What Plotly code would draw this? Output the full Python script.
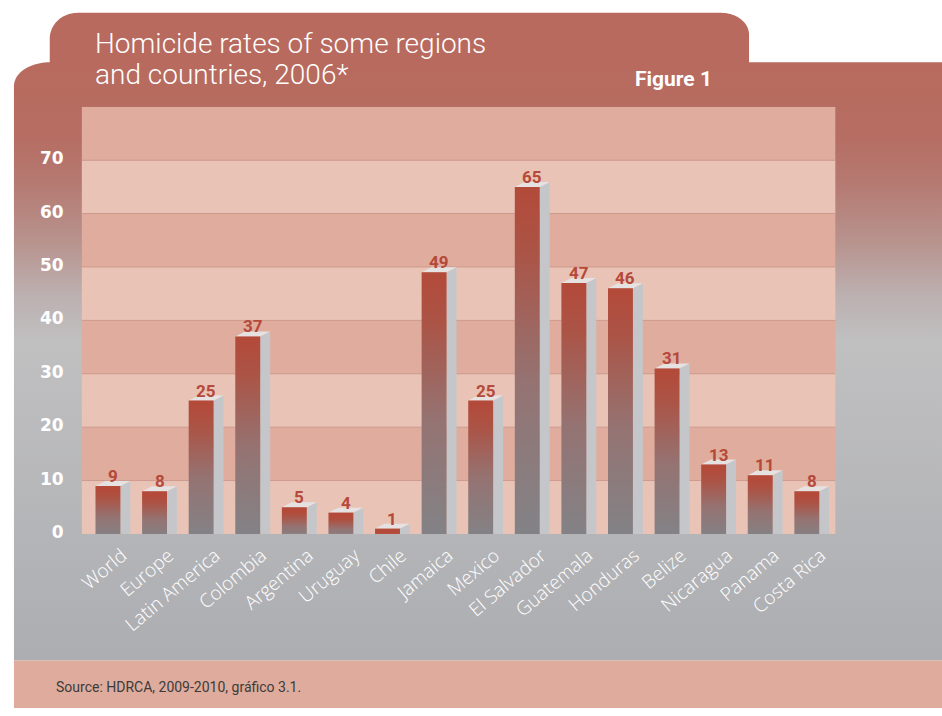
import numpy as np
import plotly.graph_objects as go

# ---------------- data ----------------
categories = ["World", "Europe", "Latin America", "Colombia", "Argentina", "Uruguay",
              "Chile", "Jamaica", "Mexico", "El Salvador", "Guatemala", "Honduras",
              "Belize", "Nicaragua", "Panama", "Costa Rica"]
rates = [9, 8, 25, 37, 5, 4, 1, 49, 25, 65, 47, 46, 31, 13, 11, 8]
y_tick_values = [0, 10, 20, 30, 40, 50, 60, 70]
y_tick_labels = ["0", "10", "20", "30", "40", "50", "60", "70"]
title_lines = ["Homicide rates of some regions", "and countries, 2006*"]
figure_label = "Figure 1"
source_text = "Source: HDRCA, 2009-2010, gráfico 3.1."

# ---------------- geometry / style ----------------
W, H = 942, 716
PX0, PX1, PY0, PY1 = 77, 835, 108, 540     # plot area in pixels
XR = [-0.566, 15.617]
YR = [0, 80]
FRONT_W = 0.535
DEPTH_X = 0.2135
DEPTH_Y = 0.93

RED_TOP = "#b86a5e"
BAND_DARK = "#dfac9d"
BAND_LIGHT = "#e9c4b6"
GRID_COL = "#cf9a8d"
LABEL_RED = "#b5493a"

fig = go.Figure()


def rounded_top(x0, x1, ytop, ybot, rxl, ryl, rxr, ryr, n=24):
    xs, ys = [x0], [ybot]
    t = np.linspace(np.pi, 1.5 * np.pi, n)
    xs += list(x0 + rxl + rxl * np.cos(t))
    ys += list(ytop + ryl + ryl * np.sin(t))
    t = np.linspace(1.5 * np.pi, 2 * np.pi, n)
    xs += list(x1 - rxr + rxr * np.cos(t))
    ys += list(ytop + ryr + ryr * np.sin(t))
    xs += [x1, x0]
    ys += [ybot, ybot]
    return xs, ys


# ---- background panel (pixel axes x/y), kept inside the figure ----
tx, ty = rounded_top(45, 748, 13, 80, 28, 26, 28, 22)
fig.add_trace(go.Scatter(x=tx, y=ty, fill="toself", fillcolor=RED_TOP, mode="none",
                         xaxis="x", yaxis="y", hoverinfo="skip", showlegend=False))

bx, by = rounded_top(9, W, 63, 668, 36, 24, 0.01, 0.01)
fig.add_trace(go.Scatter(
    x=bx, y=by, fill="toself", mode="none", xaxis="x", yaxis="y",
    hoverinfo="skip", showlegend=False,
    fillgradient=dict(type="vertical", start=63, stop=668,
                      colorscale=[[0, "#b86a5e"], [0.12, "#b66d62"], [0.2, "#b57a72"],
                                  [0.3, "#b8948f"], [0.38, "#bcafaf"], [0.46, "#c0c0c1"],
                                  [1, "#acadb1"]])))

fig.add_trace(go.Scatter(x=[9, W, W, 9, 9], y=[668, 668, H, H, 668], fill="toself",
                         fillcolor="#dfab9c", mode="none", xaxis="x", yaxis="y",
                         hoverinfo="skip", showlegend=False))

# ---- plot area bands (data axes x2/y2) ----
for k in range(8):
    y0, y1 = k * 10, k * 10 + 10
    fig.add_trace(go.Scatter(x=[XR[0], XR[1], XR[1], XR[0], XR[0]], y=[y0, y0, y1, y1, y0],
                             fill="toself", fillcolor=BAND_LIGHT if k % 2 == 0 else BAND_DARK,
                             mode="none", xaxis="x2", yaxis="y2", hoverinfo="skip",
                             showlegend=False))
for v in y_tick_values[1:]:
    fig.add_trace(go.Scatter(x=XR, y=[v, v], mode="lines", line=dict(color=GRID_COL, width=1),
                             xaxis="x2", yaxis="y2", hoverinfo="skip", showlegend=False))

# ---- 3D bars ----
for i, v in enumerate(rates):
    xl, xr = i - FRONT_W / 2, i + FRONT_W / 2
    # side face
    fig.add_trace(go.Scatter(x=[xr, xr + DEPTH_X, xr + DEPTH_X, xr, xr],
                             y=[0, 0, v + DEPTH_Y, v, 0], fill="toself", fillcolor="#c5c6ca",
                             mode="none", xaxis="x2", yaxis="y2", hoverinfo="skip",
                             showlegend=False))
    # top face
    fig.add_trace(go.Scatter(x=[xl, xr, xr + DEPTH_X, xl + DEPTH_X, xl],
                             y=[v, v, v + DEPTH_Y, v + DEPTH_Y, v], fill="toself",
                             fillcolor="#e6e2e1", mode="none", xaxis="x2", yaxis="y2",
                             hoverinfo="skip", showlegend=False))
    # front face
    fig.add_trace(go.Scatter(
        x=[xl, xr, xr, xl, xl], y=[0, 0, v, v, 0], fill="toself", mode="none",
        xaxis="x2", yaxis="y2", hoverinfo="skip", showlegend=False,
        fillgradient=dict(type="vertical", start=0, stop=v,
                          colorscale=[[0, "#828387"], [0.45, "#957372"], [0.82, "#ab5446"],
                                      [1, "#b34a3a"]])))
    fig.add_annotation(x=i + DEPTH_X / 2, y=v + DEPTH_Y, xref="x2", yref="y2",
                       text=str(v), showarrow=False, yanchor="bottom", yshift=-7,
                       font=dict(family="Roboto", size=17, color=LABEL_RED, weight="bold"))

# ---- texts on the panel ----
for line, top in zip(title_lines, [25, 57]):
    fig.add_annotation(x=88, y=top, xref="x", yref="y", xanchor="left", yanchor="top",
                       align="left", showarrow=False, text=line,
                       font=dict(family="Roboto", size=28, color="white", weight=300))
fig.add_annotation(x=631, y=80, xref="x", yref="y", xanchor="left", yanchor="middle",
                   showarrow=False, text=figure_label,
                   font=dict(family="Roboto", size=21, color="white", weight="bold"))
fig.add_annotation(x=49, y=695, xref="x", yref="y", xanchor="left", yanchor="middle",
                   showarrow=False, text=source_text,
                   font=dict(family="Roboto", size=14, color="#3b3b3b"))

fig.update_layout(
    width=W, height=H, margin=dict(l=0, r=0, t=0, b=0),
    paper_bgcolor="white", plot_bgcolor="rgba(0,0,0,0)", hovermode=False,
    showlegend=False,
    xaxis=dict(domain=[0, 1], range=[0, W], visible=False, fixedrange=True),
    yaxis=dict(domain=[0, 1], range=[H, 0], visible=False, fixedrange=True),
    xaxis2=dict(domain=[PX0 / W, PX1 / W], range=XR, anchor="y2",
                tickmode="array", tickvals=list(range(len(categories))), ticktext=categories,
                tickangle=-40, tickfont=dict(family="Open Sans", size=19, color="white",
                                             weight=300),
                ticklabelshift=14, ticklabelstandoff=6,
                showgrid=False, zeroline=False, showline=False, ticks="", fixedrange=True),
    yaxis2=dict(domain=[1 - PY1 / H, 1 - PY0 / H], range=YR, anchor="x2",
                tickmode="array", tickvals=y_tick_values, ticktext=y_tick_labels,
                tickfont=dict(family="DejaVu Sans", size=17, color="white", weight="bold"),
                ticklabelshift=-2, ticklabelstandoff=17,
                showgrid=False, zeroline=False, showline=False, ticks="", fixedrange=True),
)

fig.write_html(
    "out.html", config={"displayModeBar": False},
    post_script=("document.body.style.margin='0';"
                 "document.body.style.overflow='hidden';"))
